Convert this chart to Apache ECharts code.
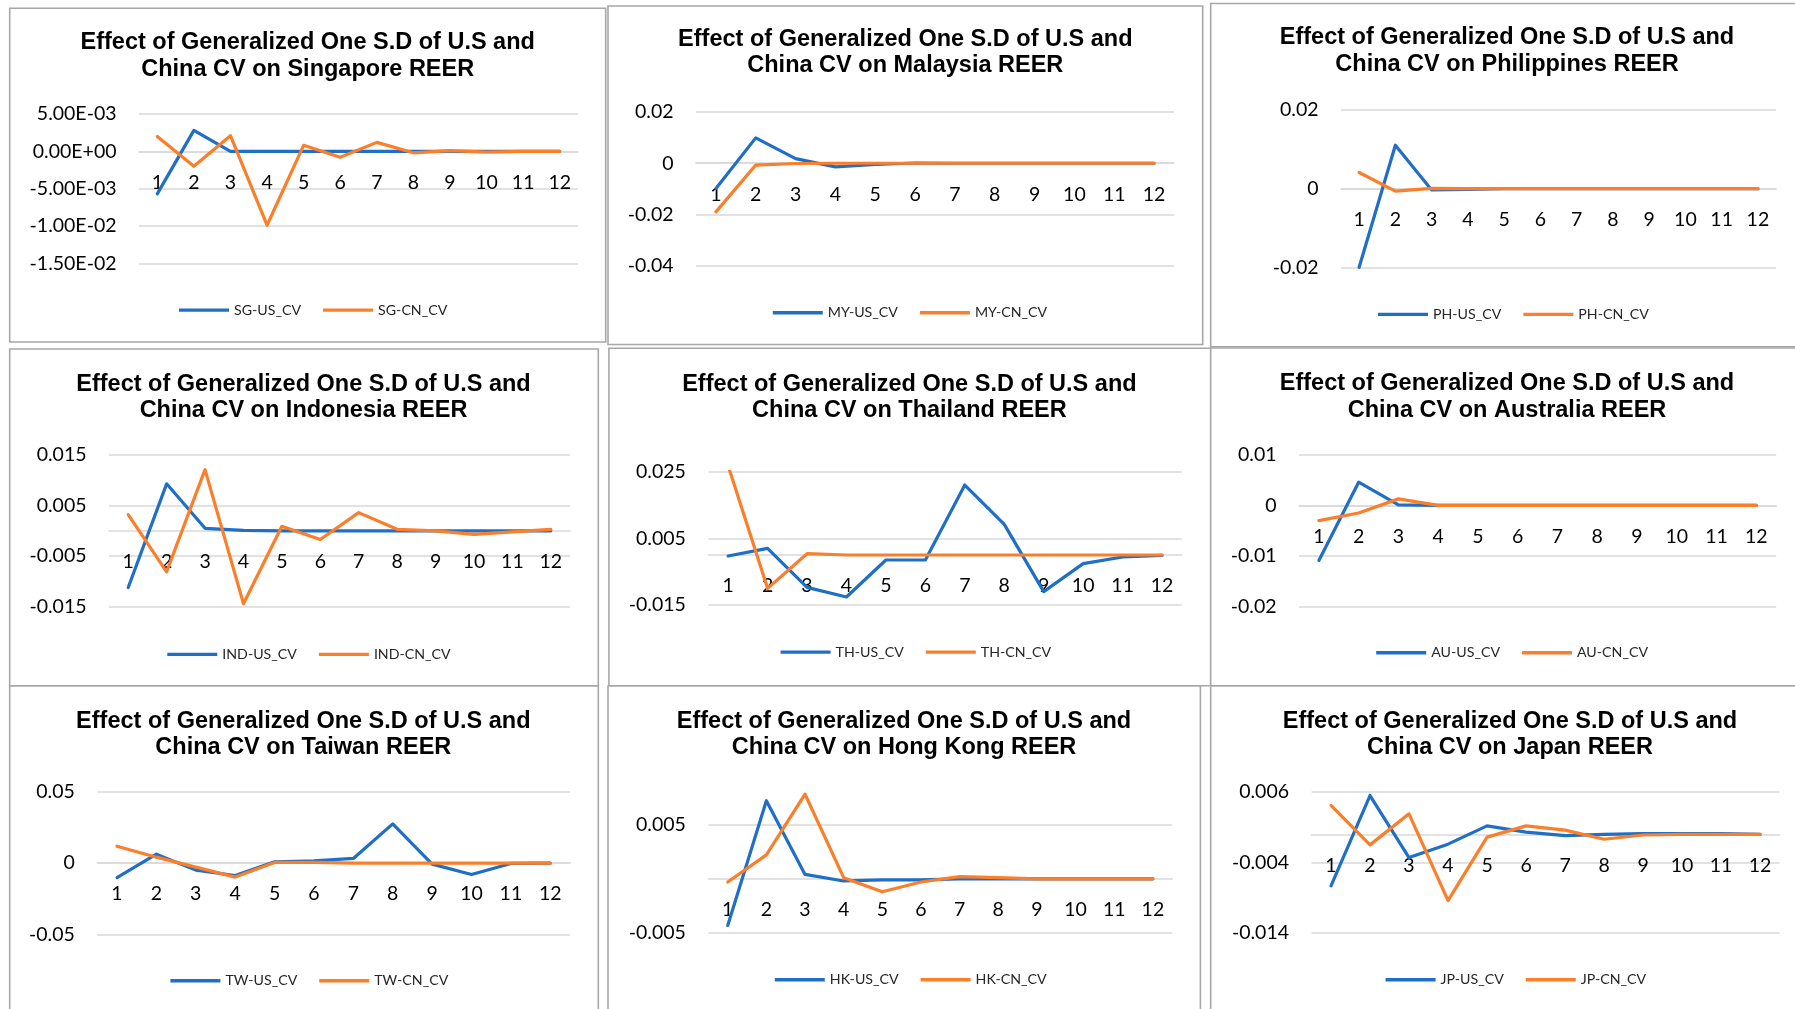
<!DOCTYPE html>
<html>
<head>
<meta charset="utf-8">
<script src="https://cdn.jsdelivr.net/npm/echarts@6/dist/echarts.min.js"></script>
<style>
html,body{margin:0;padding:0;background:#ffffff;}
#c{width:1795px;height:1009px;}
</style>
</head>
<body>
<div id="c"></div>
<script>
// ---------- DATA ----------
const categories = ['1','2','3','4','5','6','7','8','9','10','11','12'];

const countries = ['Singapore','Malaysia','Philippines','Indonesia','Thailand','Australia','Taiwan','Hong Kong','Japan'];
const usNames = ['SG-US_CV','MY-US_CV','PH-US_CV','IND-US_CV','TH-US_CV','AU-US_CV','TW-US_CV','HK-US_CV','JP-US_CV'];
const cnNames = ['SG-CN_CV','MY-CN_CV','PH-CN_CV','IND-CN_CV','TH-CN_CV','AU-CN_CV','TW-CN_CV','HK-CN_CV','JP-CN_CV'];

const sgUS = [-0.0057, 0.0028, 0.0000, 0.0000, 0.0000, 0.0000, 0.0000, 0.0000, 0.0000, 0.0000, 0.0000, 0.0000];
const sgCN = [0.0020, -0.0020, 0.0021, -0.0099, 0.0008, -0.0008, 0.0012, -0.0002, 0.0001, -0.0001, 0.0000, 0.0000];

const myUS = [-0.0099, 0.0099, 0.0018, -0.0014, -0.0005, 0.0001, 0.0000, 0.0000, 0.0000, 0.0000, 0.0000, 0.0000];
const myCN = [-0.0190, -0.0007, -0.0001, 0.0000, 0.0000, 0.0000, 0.0000, 0.0000, 0.0000, 0.0000, 0.0000, 0.0000];

const phUS = [-0.0199, 0.0110, -0.0003, -0.0002, 0.0000, 0.0000, 0.0000, 0.0000, 0.0000, 0.0000, 0.0000, 0.0000];
const phCN = [0.0041, -0.0006, 0.0001, 0.0000, 0.0000, 0.0000, 0.0000, 0.0000, 0.0000, 0.0000, 0.0000, 0.0000];

const idUS = [-0.0112, 0.0093, 0.0005, 0.0001, 0.0000, 0.0000, 0.0000, 0.0000, 0.0000, 0.0000, 0.0000, 0.0000];
const idCN = [0.0032, -0.0081, 0.0121, -0.0144, 0.0009, -0.0017, 0.0036, 0.0003, 0.0000, -0.0007, -0.0002, 0.0003];

const thUS = [-0.0003, 0.0020, -0.0097, -0.0126, -0.0015, -0.0015, 0.0210, 0.0092, -0.0110, -0.0026, -0.0006, -0.0001];
const thCN = [0.0268, -0.0100, 0.0004, 0.0000, 0.0000, 0.0000, 0.0000, 0.0000, 0.0000, 0.0000, 0.0000, 0.0000];

const auUS = [-0.0109, 0.0046, 0.0001, 0.0000, 0.0000, 0.0000, 0.0000, 0.0000, 0.0000, 0.0000, 0.0000, 0.0000];
const auCN = [-0.0030, -0.0015, 0.0013, 0.0000, 0.0000, 0.0000, 0.0000, 0.0000, 0.0000, 0.0000, 0.0000, 0.0000];

const twUS = [-0.0101, 0.0063, -0.0049, -0.0087, 0.0009, 0.0016, 0.0033, 0.0276, -0.0007, -0.0080, -0.0002, 0.0000];
const twCN = [0.0119, 0.0042, -0.0028, -0.0098, 0.0005, 0.0005, 0.0000, 0.0000, 0.0000, 0.0000, 0.0000, 0.0000];

const hkUS = [-0.0043, 0.0072, 0.0004, -0.0002, -0.0001, -0.0001, 0.0000, 0.0000, 0.0000, 0.0000, 0.0000, 0.0000];
const hkCN = [-0.0003, 0.0022, 0.0078, 0.0001, -0.0012, -0.0003, 0.0002, 0.0001, 0.0000, 0.0000, 0.0000, 0.0000];

const jpUS = [-0.0073, 0.0055, -0.0033, -0.0014, 0.0012, 0.0003, -0.0002, 0.0000, 0.0001, 0.0001, 0.0001, 0.0000];
const jpCN = [0.0041, -0.0015, 0.0029, -0.0094, -0.0004, 0.0012, 0.0006, -0.0007, -0.0001, 0.0000, 0.0000, 0.0000];

// y axis: [min, max, interval] (ticks counted from min)
const sgAxis = [-0.015, 0.005, 0.005];
const myAxis = [-0.04, 0.02, 0.02];
const phAxis = [-0.02, 0.02, 0.02];
const idAxis = [-0.015, 0.015, 0.01];
const thAxis = [-0.015, 0.025, 0.02];
const auAxis = [-0.02, 0.01, 0.01];
const twAxis = [-0.05, 0.05, 0.05];
const hkAxis = [-0.005, 0.009, 0.01];
const jpAxis = [-0.014, 0.006, 0.01];

const usSeries = [sgUS, myUS, phUS, idUS, thUS, auUS, twUS, hkUS, jpUS];
const cnSeries = [sgCN, myCN, phCN, idCN, thCN, auCN, twCN, hkCN, jpCN];
const axes = [sgAxis, myAxis, phAxis, idAxis, thAxis, auAxis, twAxis, hkAxis, jpAxis];

// ---------- LAYOUT (pixels) ----------
const panelBoxes = [
  [9.7, 8.3, 605.7, 342], [608, 6, 1202.7, 344.5], [1210.7, 3.5, 1800, 346.7],
  [9.7, 349, 598.3, 685.7], [608.9, 348.3, 1210.7, 685.7], [1210.7, 348, 1800, 685.7],
  [9.7, 686, 598.3, 1015], [608, 686, 1200.4, 1015], [1210.7, 686, 1800, 1015]
];
const gridBoxes = [
  [139, 114, 578, 263.3], [696, 112, 1174, 265.7], [1341, 109.7, 1776, 267.7],
  [109, 455, 570, 606.7], [708.4, 471.7, 1181.8, 605], [1299, 455, 1776.2, 606.3],
  [97.3, 792, 570, 934.3], [708.4, 781.2, 1172.2, 933], [1311.5, 792, 1779.6, 933]
];
const titleAnchors = [
  [307.7, 42.7], [905.3, 39.3], [1507, 37.7],
  [303.5, 384.3], [909.4, 384.3], [1507, 383.7],
  [303.3, 721.3], [904, 721.3], [1510, 721.3]
];
const legendAnchors = [
  [179, 309], [772.8, 311.7], [1378, 313.3],
  [167.3, 653.3], [780.6, 651], [1376.2, 651.7],
  [170.4, 979.7], [774.8, 978.7], [1385.6, 978.7]
];
const hideMaxTick = [false, false, false, false, false, false, false, true, false];
const sciFormat = [true, false, false, false, false, false, false, false, false];

const BLUE = '#1f6fc6';
const ORANGE = '#fb7e2a';
const GRID = '#d9d9d9';
const TITLE_SIZE = 23.5;
const TITLE_LH = 26.7;
const LEG_H = 3.4;
const LEG_SHIFT = 4.2;

function excelSci(v) {
  v = Math.round(v * 1e10) / 1e10;
  if (v === 0) return '0.00E+00';
  let e = Math.floor(Math.log10(Math.abs(v)));
  let m = v / Math.pow(10, e);
  if (Math.abs(+m.toFixed(2)) >= 10) { e += 1; m = v / Math.pow(10, e); }
  const sign = e < 0 ? '-' : '+';
  const ae = Math.abs(e);
  return m.toFixed(2) + 'E' + sign + (ae < 10 ? '0' + ae : '' + ae);
}
function general(v) {
  return String(+(+v).toFixed(6));
}

const title = [], grid = [], xAxis = [], yAxis = [], series = [], legend = [], graphic = [];

for (let i = 0; i < 9; i++) {
  const pb = panelBoxes[i];
  graphic.push({
    type: 'rect', silent: true, z: -10,
    shape: { x: pb[0], y: pb[1], width: pb[2] - pb[0], height: pb[3] - pb[1] },
    style: { fill: '#ffffff', stroke: '#a8a8a8', lineWidth: 1.6 }
  });

  const ta = titleAnchors[i];
  title.push({
    text: 'Effect of Generalized One S.D of U.S and\nChina CV on ' + countries[i] + ' REER',
    left: ta[0], top: ta[1] - TITLE_LH / 2, textAlign: 'center', padding: 0,
    textStyle: { fontFamily: '"Liberation Sans", Arial, sans-serif', fontWeight: 'bold',
      fontSize: TITLE_SIZE, lineHeight: TITLE_LH, color: '#000000' }
  });

  const gb = gridBoxes[i];
  grid.push({ left: gb[0], top: gb[1], width: gb[2] - gb[0], height: gb[3] - gb[1],
    containLabel: false, outerBoundsMode: 'none' });

  xAxis.push({
    type: 'category', gridIndex: i, data: categories, boundaryGap: true, position: 'bottom',
    offset: 0,
    axisLine: { show: true, onZero: false, lineStyle: { color: GRID, width: 1.6 } },
    axisTick: { show: false },
    axisLabel: { margin: 21, fontFamily: 'Lato, "Open Sans", sans-serif', fontSize: 19.5, color: '#000000', interval: 0 },
    splitLine: { show: false }
  });

  const ax = axes[i];
  yAxis.push({
    type: 'value', gridIndex: i, min: ax[0], max: ax[1], interval: ax[2],
    axisLine: { show: false }, axisTick: { show: false },
    axisLabel: {
      margin: 22.5, fontFamily: 'Lato, "Open Sans", sans-serif', fontSize: 19.5, color: '#000000',
      showMaxLabel: hideMaxTick[i] ? false : true, showMinLabel: true,
      formatter: sciFormat[i] ? excelSci : general
    },
    splitLine: { show: true, showMaxLine: !hideMaxTick[i], lineStyle: { color: GRID, width: 1.6 } }
  });

  series.push({
    name: usNames[i], type: 'line', xAxisIndex: i, yAxisIndex: i, data: usSeries[i],
    symbol: 'none', showSymbol: false, smooth: false, color: BLUE,
    lineStyle: { color: BLUE, width: 3.2, cap: 'round', join: 'round' }, z: 3
  });
  series.push({
    name: cnNames[i], type: 'line', xAxisIndex: i, yAxisIndex: i, data: cnSeries[i],
    symbol: 'none', showSymbol: false, smooth: false, color: ORANGE,
    lineStyle: { color: ORANGE, width: 3.2, cap: 'round', join: 'round' }, z: 4
  });

  const la = legendAnchors[i];
  legend.push({
    data: [
      { name: usNames[i], icon: 'rect', itemStyle: { color: BLUE } },
      { name: cnNames[i], icon: 'rect', itemStyle: { color: ORANGE } }
    ],
    left: la[0], top: la[1] - LEG_H / 2 - LEG_SHIFT, padding: 0,
    itemWidth: 50, itemHeight: LEG_H, itemGap: 22, selectedMode: false,
    textStyle: { fontFamily: 'Lato, "Open Sans", sans-serif', fontSize: 14.2, color: '#262626' }
  });
}

const chart = echarts.init(document.getElementById('c'), null, { renderer: 'canvas' });
chart.setOption({
  backgroundColor: '#ffffff',
  animation: false,
  title: title, grid: grid, xAxis: xAxis, yAxis: yAxis, series: series, legend: legend,
  graphic: graphic
});

// Move each category axis (line + labels) up to the value axis' zero, as Excel does.
const xFix = [];
for (let i = 0; i < 9; i++) {
  const zeroY = chart.convertToPixel({ yAxisIndex: i }, 0);
  const gb = gridBoxes[i];
  xFix.push({ offset: -(gb[3] - zeroY) });
}
chart.setOption({ xAxis: xFix });
</script>
</body>
</html>
